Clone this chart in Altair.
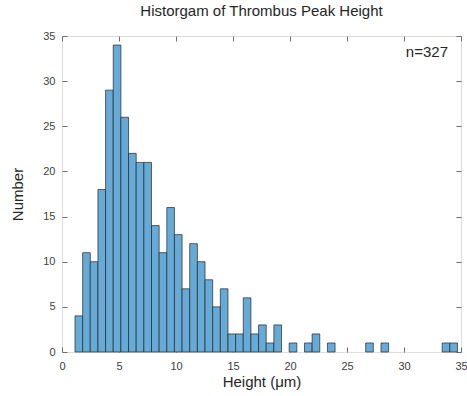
import altair as alt
import pandas as pd

# Histogram counts (50 equal-width bins)
counts = [4, 11, 10, 18, 29, 34, 26, 22, 21, 21,
          14, 11, 16, 13, 7, 12, 10, 8, 5, 7,
          2, 2, 6, 2, 3, 1, 3, 0, 1, 0,
          1, 2, 0, 1, 0, 0, 0, 0, 1, 0,
          1, 0, 0, 0, 0, 0, 0, 0, 1, 1]
bin_first_edge = 1.14
bin_width = 0.671
x_ticks = [0, 5, 10, 15, 20, 25, 30, 35]
y_ticks = [0, 5, 10, 15, 20, 25, 30, 35]
title_text = "Historgam of Thrombus Peak Height"
x_title = "Height (μm)"
y_title = "Number"
n_label = "n=327"

starts = [bin_first_edge + i * bin_width for i in range(len(counts))]
ends = [s + bin_width for s in starts]
df = pd.DataFrame({"start": starts, "end": ends, "count": counts})

FONT = "Liberation Sans"
AX = "#6e6e6e"
LAB = "#404040"

xs = alt.Scale(domain=[0, 35], nice=False, zero=False)
ys = alt.Scale(domain=[0, 35], nice=False)

label_x = alt.Axis(values=x_ticks, ticks=False, domain=False, grid=False,
                   labelPadding=8, labelFontSize=11, labelColor=LAB, labelFont=FONT,
                   labelFlush=False, labelOverlap=False,
                   title=x_title, titleFontSize=15, titleFont=FONT, titleFontWeight="normal",
                   titleColor="#262626", titlePadding=3, orient="bottom")
label_y = alt.Axis(values=y_ticks, ticks=False, domain=False, grid=False,
                   labelPadding=7, labelFontSize=11, labelColor=LAB, labelFont=FONT,
                   labelFlush=False, labelOverlap=False,
                   title=y_title, titleFontSize=15, titleFont=FONT, titleFontWeight="normal",
                   titleColor="#262626", titlePadding=17, orient="left")

def tick_axis(orient, vals):
    return alt.Axis(values=vals, ticks=True, tickSize=5, offset=-5, tickColor=AX,
                    tickWidth=1, domain=False, labels=False, grid=False, title=None,
                    orient=orient)

bars = alt.Chart(df).transform_filter(alt.datum["count"] > 0).mark_bar(
    fill="#66aad7", stroke="#262626", strokeWidth=0.7
).encode(
    x=alt.X("start:Q", scale=xs, axis=label_x),
    x2="end:Q",
    y=alt.Y("count:Q", scale=ys, axis=label_y),
    y2=alt.datum(0),
)

ticks1 = alt.Chart(df).mark_point(opacity=0).encode(
    x=alt.X("start:Q", scale=xs, axis=tick_axis("bottom", x_ticks)),
    y=alt.Y("count:Q", scale=ys, axis=tick_axis("left", y_ticks)),
)
ticks2 = alt.Chart(df).mark_point(opacity=0).encode(
    x=alt.X("start:Q", scale=xs, axis=tick_axis("top", x_ticks)),
    y=alt.Y("count:Q", scale=ys, axis=tick_axis("right", y_ticks)),
)

ann = alt.Chart(pd.DataFrame({"t": [n_label]})).mark_text(
    align="right", baseline="alphabetic", fontSize=15, font=FONT, color="#262626"
).encode(text="t:N", x=alt.value(386), y=alt.value(21))

chart = alt.layer(bars, ticks1, ticks2, ann).resolve_axis(
    x="independent", y="independent"
).properties(
    width=399, height=316,
    title=alt.TitleParams(title_text, fontSize=15, font=FONT, fontWeight="normal",
                          color="#262626", offset=11, anchor="middle"),
    autosize=alt.AutoSizeParams(type="none"),
    padding={"left": 62, "top": 36, "right": 6, "bottom": 44},
).configure_view(stroke=AX, strokeWidth=1).configure(background="white")

chart.save("out.html", embed_options={"renderer": "svg", "actions": False})
